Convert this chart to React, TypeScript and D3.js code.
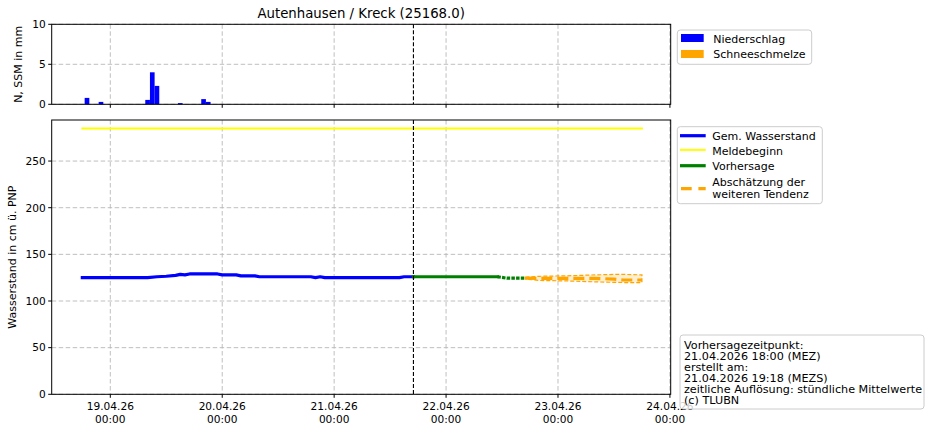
import React from 'react';
import * as d3 from 'd3';

const W = 929;
const H = 431;
const FONT = '"DejaVu Sans", sans-serif';

const t = (s: string) => new Date(s + ':00Z');

// ---- data ----
const titleText = 'Autenhausen / Kreck (25168.0)';

const precipTimes = ['2026-04-18T19:00', '2026-04-18T22:00', '2026-04-19T08:00', '2026-04-19T09:00', '2026-04-19T10:00', '2026-04-19T15:00', '2026-04-19T20:00', '2026-04-19T21:00'];
const precipValues = [0.8, 0.3, 0.55, 4.0, 2.3, 0.15, 0.65, 0.3];
const snowTimes: string[] = [];
const snowValues: number[] = [];

const measuredTimes = ['2026-04-18T18:00', '2026-04-19T08:00', '2026-04-19T10:00', '2026-04-19T12:00', '2026-04-19T14:00', '2026-04-19T15:00', '2026-04-19T16:00', '2026-04-19T17:00', '2026-04-19T23:00', '2026-04-20T00:00', '2026-04-20T03:00', '2026-04-20T04:00', '2026-04-20T07:00', '2026-04-20T08:00', '2026-04-20T19:00', '2026-04-20T20:00', '2026-04-20T21:00', '2026-04-20T22:00', '2026-04-21T14:00', '2026-04-21T15:00', '2026-04-21T17:00'];
const measuredValues = [125, 125, 126, 126.5, 127.5, 128.5, 128, 129, 129, 128, 128, 127, 127, 126, 126, 125, 126, 125, 125, 126, 126];

const alertTimes = ['2026-04-18T18:00', '2026-04-23T18:00'];
const alertValues = [285, 285];

const forecastTimes = ['2026-04-21T17:00', '2026-04-22T11:00', '2026-04-22T13:00', '2026-04-22T17:00'];
const forecastValues = [126, 126, 124.5, 124.5];

const trendTimes = ['2026-04-22T17:00', '2026-04-22T20:00', '2026-04-23T02:00', '2026-04-23T08:00', '2026-04-23T12:00', '2026-04-23T14:00', '2026-04-23T18:00'];
const trendValues = [124.5, 124.3, 124.3, 124.3, 123.5, 122.5, 122.5];
const trendLow = [123.5, 122, 121.5, 120.5, 120, 119.8, 119.8];
const trendHigh = [125.5, 126.5, 127, 128, 128.5, 128.5, 128];

const xTickTimes = ['2026-04-19T00:00', '2026-04-20T00:00', '2026-04-21T00:00', '2026-04-22T00:00', '2026-04-23T00:00', '2026-04-24T00:00'];
const forecastTime = '2026-04-21T17:00';
const precipTicks = [0, 5, 10];
const levelTicks = [0, 50, 100, 150, 200, 250];

const legend1 = [
  { label: 'Niederschlag', color: '#0000ff' },
  { label: 'Schneeschmelze', color: '#ffa500' },
];
const infoLines = [
  'Vorhersagezeitpunkt:',
  '21.04.2026 18:00 (MEZ)',
  'erstellt am:',
  '21.04.2026 19:18 (MEZS)',
  'zeitliche Auflösung: stündliche Mittelwerte',
  '(c) TLUBN',
];

// ---- layout ----
const L = 51.7;
const R = 670.7;
const topT = 24.3;
const topB = 104.3;
const botT = 120;
const botB = 394.3;

export default function App() {
  const x = d3.scaleUtc().domain([t('2026-04-18T11:26'), t('2026-04-24T00:10')]).range([L, R]);
  const yP = d3.scaleLinear().domain([0, 10]).range([topB, topT]);
  const yW = d3.scaleLinear().domain([0, 294]).range([botB, botT]);

  const lineGen = d3.line<[Date, number]>().x(d => x(d[0])).y(d => yW(d[1]));
  const zip = (ts: string[], vs: number[]) => ts.map((s, i) => [t(s), vs[i]] as [Date, number]);

  const measuredPath = lineGen(zip(measuredTimes, measuredValues)) || '';
  const alertPath = lineGen(zip(alertTimes, alertValues)) || '';
  const fcData = zip(forecastTimes, forecastValues);
  const fcPathA = lineGen(fcData.slice(0, 2)) || '';
  const fcPathB = lineGen(fcData.slice(1)) || '';
  const trendPath = lineGen(zip(trendTimes, trendValues)) || '';
  const areaGen = d3.area<number>()
    .x(i => x(t(trendTimes[i])))
    .y0(i => yW(trendLow[i]))
    .y1(i => yW(trendHigh[i]));
  const bandPath = areaGen(trendTimes.map((_, i) => i)) || '';

  const halfHour = 30 * 60 * 1000;
  const fmtD = d3.utcFormat('%d.%m.%y');
  const fmtT = d3.utcFormat('%H:%M');
  const fx = x(t(forecastTime));

  const gridStyle = { stroke: '#b8b8b8', strokeWidth: 0.9, strokeDasharray: '4.5,2.5' };

  return (
    <svg width={W} height={H} style={{ position: 'absolute', left: 0, top: 0, background: '#fff' }} fontFamily={FONT}>
      <rect x={0} y={0} width={W} height={H} fill="#fff" />
      <text x={(L + R) / 2} y={18} textAnchor="middle" fontSize={13.3} fill="#000">{titleText}</text>

      {/* ---- top panel ---- */}
      {xTickTimes.map(s => (
        <line key={'tg' + s} x1={x(t(s))} x2={x(t(s))} y1={topT} y2={topB} {...gridStyle} />
      ))}
      {precipTicks.map(v => (
        <line key={'pg' + v} x1={L} x2={R} y1={yP(v)} y2={yP(v)} {...gridStyle} />
      ))}
      {precipTimes.map((s, i) => (
        <rect key={'pb' + i} x={x(new Date(t(s).getTime() - halfHour))} width={x(new Date(t(s).getTime() + halfHour)) - x(new Date(t(s).getTime() - halfHour))}
          y={yP(precipValues[i])} height={yP(0) - yP(precipValues[i])} fill="#0000ff" />
      ))}
      {snowTimes.map((s, i) => (
        <rect key={'sb' + i} x={x(new Date(t(s).getTime() - halfHour))} width={x(new Date(t(s).getTime() + halfHour)) - x(new Date(t(s).getTime() - halfHour))}
          y={yP(snowValues[i])} height={yP(0) - yP(snowValues[i])} fill="#ffa500" />
      ))}
      <line x1={fx} x2={fx} y1={topT} y2={topB} stroke="#000" strokeWidth={1.1} strokeDasharray="4,2" />
      <rect x={L} y={topT} width={R - L} height={topB - topT} fill="none" stroke="#000" strokeWidth={1} />
      {precipTicks.map(v => (
        <g key={'pt' + v}>
          <line x1={L - 3.5} x2={L} y1={yP(v)} y2={yP(v)} stroke="#000" strokeWidth={1} />
          <text x={L - 6} y={yP(v) + 3.8} textAnchor="end" fontSize={10.6}>{v}</text>
        </g>
      ))}
      {xTickTimes.map(s => (
        <line key={'tt' + s} x1={x(t(s))} x2={x(t(s))} y1={topB} y2={topB + 3.5} stroke="#000" strokeWidth={1} />
      ))}
      <text transform={`translate(22,${(topT + topB) / 2}) rotate(-90)`} textAnchor="middle" fontSize={11}>N, SSM in mm</text>

      {/* ---- bottom panel ---- */}
      {xTickTimes.map(s => (
        <line key={'bg' + s} x1={x(t(s))} x2={x(t(s))} y1={botT} y2={botB} {...gridStyle} />
      ))}
      {levelTicks.map(v => (
        <line key={'lg' + v} x1={L} x2={R} y1={yW(v)} y2={yW(v)} {...gridStyle} />
      ))}
      <path d={alertPath} fill="none" stroke="#ffff00" strokeWidth={2} strokeLinecap="square" />
      <path d={measuredPath} fill="none" stroke="#0000ff" strokeWidth={3.2} strokeLinecap="square" strokeLinejoin="round" />
      <path d={fcPathA} fill="none" stroke="#008000" strokeWidth={3.2} strokeLinecap="square" />
      <path d={fcPathB} fill="none" stroke="#008000" strokeWidth={3.2} strokeDasharray="3.5,1.2" />
      <path d={bandPath} fill="#ffa500" fillOpacity={0.18} stroke="#ffa500" strokeWidth={1.2} strokeDasharray="4,2" />
      <path d={trendPath} fill="none" stroke="#ffa500" strokeWidth={3.2} strokeDasharray="11,5" />
      <line x1={fx} x2={fx} y1={botT} y2={botB} stroke="#000" strokeWidth={1.1} strokeDasharray="4,2" />
      <rect x={L} y={botT} width={R - L} height={botB - botT} fill="none" stroke="#000" strokeWidth={1} />
      {levelTicks.map(v => (
        <g key={'lt' + v}>
          <line x1={L - 3.5} x2={L} y1={yW(v)} y2={yW(v)} stroke="#000" strokeWidth={1} />
          <text x={L - 6} y={yW(v) + 3.8} textAnchor="end" fontSize={10.6}>{v}</text>
        </g>
      ))}
      {xTickTimes.map(s => (
        <g key={'xt' + s}>
          <line x1={x(t(s))} x2={x(t(s))} y1={botB} y2={botB + 3.5} stroke="#000" strokeWidth={1} />
          <text x={x(t(s))} y={botB + 16} textAnchor="middle" fontSize={10.6}>{fmtD(t(s))}</text>
          <text x={x(t(s))} y={botB + 28.5} textAnchor="middle" fontSize={10.6}>{fmtT(t(s))}</text>
        </g>
      ))}
      <text transform={`translate(16,${(botT + botB) / 2}) rotate(-90)`} textAnchor="middle" fontSize={11}>Wasserstand in cm ü. PNP</text>

      {/* ---- legend 1 ---- */}
      <rect x={677.3} y={30} width={134.4} height={34.3} rx={3} fill="#fff" fillOpacity={0.8} stroke="#cccccc" strokeWidth={1} />
      {legend1.map((d, i) => (
        <g key={'l1' + i}>
          <rect x={681} y={34 + i * 16} width={22.7} height={8} fill={d.color} />
          <text x={713.3} y={43.3 + i * 14.7} fontSize={11}>{d.label}</text>
        </g>
      ))}

      {/* ---- legend 2 ---- */}
      <rect x={677.3} y={126.7} width={145} height={77} rx={3} fill="#fff" fillOpacity={0.8} stroke="#cccccc" strokeWidth={1} />
      <line x1={680} x2={705.7} y1={135.7} y2={135.7} stroke="#0000ff" strokeWidth={3.2} />
      <text x={712.3} y={139.5} fontSize={11}>Gem. Wasserstand</text>
      <line x1={680} x2={705.7} y1={149.9} y2={149.9} stroke="#ffff00" strokeWidth={2} />
      <text x={712.3} y={155} fontSize={11}>Meldebeginn</text>
      <line x1={680} x2={705.7} y1={165.7} y2={165.7} stroke="#008000" strokeWidth={3.2} />
      <text x={712.3} y={170} fontSize={11}>Vorhersage</text>
      <line x1={681} x2={705.7} y1={188.7} y2={188.7} stroke="#ffa500" strokeWidth={3.2} strokeDasharray="10.7,6.7" />
      <text x={712.3} y={186.2} fontSize={11}>Abschätzung der</text>
      <text x={712.3} y={197.5} fontSize={11}>weiteren Tendenz</text>

      {/* ---- info box ---- */}
      <rect x={680} y={335} width={244} height={74} rx={3} fill="#fff" fillOpacity={0.8} stroke="#cccccc" strokeWidth={1} />
      {infoLines.map((s, i) => (
        <text key={'in' + i} x={684} y={348.6 + i * 11.1} fontSize={11.2}>{s}</text>
      ))}
    </svg>
  );
}
